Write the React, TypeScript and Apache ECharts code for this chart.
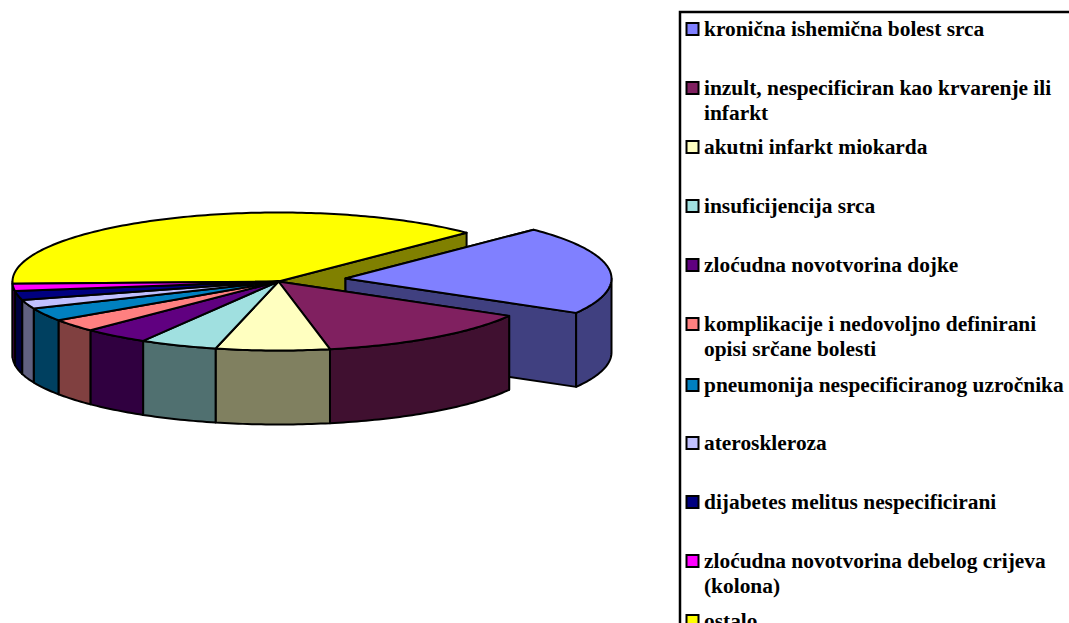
import React, { useEffect, useRef } from "react";
import * as echarts from "echarts";

const categories = [
  "kronična ishemična bolest srca",
  "inzult, nespecificiran kao krvarenje ili\ninfarkt",
  "akutni infarkt miokarda",
  "insuficijencija srca",
  "zloćudna novotvorina dojke",
  "komplikacije i nedovoljno definirani\nopisi srčane bolesti",
  "pneumonija nespecificiranog uzročnika",
  "ateroskleroza",
  "dijabetes melitus nespecificirani",
  "zloćudna novotvorina debelog crijeva\n(kolona)",
  "ostalo",
];
const values = [20.8, 13.6, 6.9, 4.7, 4.0, 3.0, 3.1, 2.1, 2.1, 1.7, 38.0];
const topColors = ["#8080FF", "#802060", "#FFFFC0", "#A0E0E0", "#600080", "#FF8080", "#0080C0", "#C0C0FF", "#000080", "#FF00FF", "#FFFF00"];
const wallColors = ["#404080", "#401030", "#808060", "#507070", "#300040", "#804040", "#004060", "#606080", "#000040", "#800080", "#808000"];
const legendRowY = [29, 88, 147, 206, 265, 324, 385, 443, 502, 561, 621];

const drawOrder = [10, 0, 1, 2, 3, 4, 5, 6, 7, 8, 9];
const explodedIndex = 0;
const START_ANGLE = 45;
const CX = 278.5, CY = 281.5, RX = 266, RY = 69, DEPTH = 74;
const EXPLODE_DX = 67, EXPLODE_DY = -3;

const total = values.reduce((a, b) => a + b, 0);
const sweeps = values.map((v) => (v / total) * 360);
const starts: number[] = [];
sweeps.reduce((acc, s, i) => {
  starts[i] = acc;
  return acc - s;
}, START_ANGLE);

const rad = (d: number) => (d * Math.PI) / 180;

function renderSlice(_params: any, api: any) {
  const i = api.value(0) as number;
  const a1 = starts[i];
  const a2 = a1 - sweeps[i];
  const cx = CX + (i === explodedIndex ? EXPLODE_DX : 0);
  const cy = CY + (i === explodedIndex ? EXPLODE_DY : 0);
  const pt = (t: number, drop = 0): number[] => [cx + RX * Math.cos(rad(t)), cy - RY * Math.sin(rad(t)) + drop];
  const arc = (from: number, to: number, drop = 0) => {
    const n = Math.max(2, Math.ceil(Math.abs(from - to)));
    const out: number[][] = [];
    for (let k = 0; k <= n; k++) out.push(pt(from + ((to - from) * k) / n, drop));
    return out;
  };
  const base = { stroke: "#000", lineWidth: 2, lineJoin: "round" };
  const children: any[] = [];
  const face = (t: number) => ({
    type: "polygon",
    shape: { points: [[cx, cy], pt(t), pt(t, DEPTH), [cx, cy + DEPTH]] },
    style: { ...base, fill: wallColors[i] },
  });
  const next = (i + 1) % values.length;
  const prev = (i - 1 + values.length) % values.length;
  if (i === explodedIndex || prev === explodedIndex) children.push(face(a1));
  if (i === explodedIndex || next === explodedIndex) children.push(face(a2));
  // The outer wall shows only on the front half of the rim.
  const wFrom = Math.min(a1, 0);
  const wTo = Math.max(a2, -180);
  if (wFrom > wTo) {
    children.push({
      type: "polygon",
      shape: { points: [...arc(wFrom, wTo), ...arc(wTo, wFrom, DEPTH)] },
      style: { ...base, fill: wallColors[i] },
    });
  }
  children.push({
    type: "polygon",
    shape: { points: [[cx, cy], ...arc(a1, a2)] },
    style: { ...base, fill: topColors[i] },
  });
  return { type: "group", children };
}

const legendGraphics: any[] = [
  { type: "rect", silent: true, shape: { x: 680, y: 12, width: 500, height: 800 }, style: { fill: "#fff", stroke: "#000", lineWidth: 2.5 } },
];
categories.forEach((name, i) => {
  legendGraphics.push({
    type: "rect",
    silent: true,
    shape: { x: 686.5, y: legendRowY[i] - 6, width: 12, height: 12 },
    style: { fill: topColors[i], stroke: "#000", lineWidth: 2 },
  });
  legendGraphics.push({
    type: "text",
    silent: true,
    x: 704,
    y: legendRowY[i] - 12.5,
    style: {
      text: name,
      fill: "#000",
      font: 'bold 21.4px "Liberation Serif"',
      lineHeight: 25,
      verticalAlign: "top",
    },
  });
});

export default function App() {
  const ref = useRef<HTMLDivElement>(null);
  useEffect(() => {
    document.body.style.margin = "0";
    const chart = echarts.init(ref.current!, undefined, { renderer: "svg" });
    chart.setOption({
      animation: false,
      backgroundColor: "#fff",
      graphic: legendGraphics,
      series: [
        {
          type: "custom",
          coordinateSystem: "none",
          silent: true,
          renderItem: renderSlice,
          data: drawOrder.map((i) => ({ name: categories[i], value: [i, values[i]] })),
        },
      ],
    });
    return () => chart.dispose();
  }, []);
  return <div ref={ref} style={{ width: 1069, height: 623, overflow: "hidden" }} />;
}
